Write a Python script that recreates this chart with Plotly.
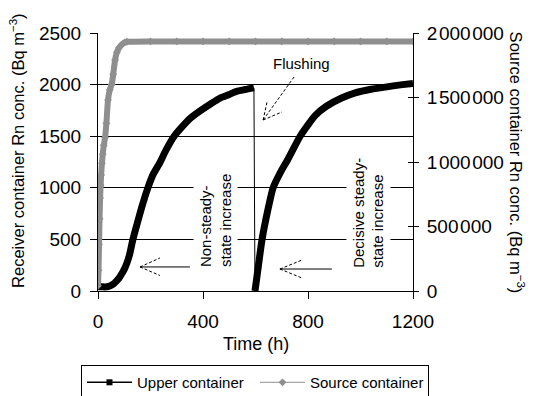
import plotly.graph_objects as go

# ---------------- data ----------------
# Upper (receiver) container, Bq m-3, left axis
time_upper = [0, 10, 20, 30, 40, 50, 60, 70, 80, 90, 100, 110, 120, 133, 150, 170, 190, 210, 236,
              260, 290, 320, 350, 389, 430, 465, 500, 528, 560, 594,
              598, 605, 615, 625, 645, 667, 695, 722, 770, 800, 827, 870, 928, 980, 1040, 1118,
              1160, 1200]
conc_upper = [40, 40, 40, 40, 45, 55, 70, 95, 125, 165, 210, 270, 350, 500, 660, 840, 1000, 1130, 1245,
              1370, 1500, 1590, 1670, 1745, 1815, 1870, 1905, 1935, 1952, 1968,
              0, 130, 320, 500, 760, 1000, 1150, 1270, 1500, 1610, 1700, 1790, 1870, 1920, 1955, 1985,
              2000, 2012]
FLUSH_TIME = 596

# Source container, Bq m-3, right axis
time_source = [0, 2, 4, 6, 8, 10, 12, 15, 18, 22, 27, 32, 38, 45, 52, 58, 65, 72, 80, 88, 95, 102, 110,
               200, 300, 400, 500, 600, 700, 800, 900, 1000, 1100, 1200]
conc_source = [40000, 160000, 360000, 560000, 720000, 820000, 900000, 990000, 1060000, 1130000,
               1190000, 1300000, 1480000, 1560000, 1600000, 1680000, 1790000, 1850000, 1885000,
               1905000, 1918000, 1927000, 1932000,
               1935000, 1935000, 1935000, 1935000, 1935000, 1935000, 1935000, 1935000, 1935000,
               1935000, 1935000]

x_ticks = [0, 400, 800, 1200]
left_ticks = [0, 500, 1000, 1500, 2000, 2500]
right_ticks = [0, 500000, 1000000, 1500000, 2000000]

series_names = ["Upper container", "Source container"]

# ---------------- styling ----------------
FONT = "Liberation Sans, Arial, sans-serif"
GREY = "#8f8f8f"
BLACK = "#000000"


def fmt_thousands(v):
    return f"{v:,}".replace(",", "\u200a")


pre = [(t, c) for t, c in zip(time_upper, conc_upper) if t < FLUSH_TIME]
post = [(t, c) for t, c in zip(time_upper, conc_upper) if t >= FLUSH_TIME]

fig = go.Figure()

# source container (right axis)
fig.add_trace(go.Scatter(x=time_source, y=conc_source, yaxis="y2", mode="lines+markers",
                         line=dict(color=GREY, width=6, shape="spline", smoothing=0.5),
                         marker=dict(symbol="diamond", size=6, color=GREY),
                         showlegend=False, hoverinfo="skip"))

# upper container, before and after flushing
for seg in (pre, post):
    fig.add_trace(go.Scatter(x=[p[0] for p in seg], y=[p[1] for p in seg], mode="lines",
                             line=dict(color=BLACK, width=7, shape="spline", smoothing=0.6),
                             showlegend=False, hoverinfo="skip"))
# thin line at the flushing step
fig.add_trace(go.Scatter(x=[pre[-1][0], post[0][0]], y=[pre[-1][1], post[0][1]], mode="lines",
                         line=dict(color=BLACK, width=1), showlegend=False, hoverinfo="skip"))

# legend entries
fig.add_trace(go.Scatter(x=[None], y=[None], mode="lines+markers", name=series_names[0],
                         line=dict(color=BLACK, width=1.5), marker=dict(symbol="square", size=6, color=BLACK)))
fig.add_trace(go.Scatter(x=[None], y=[None], mode="lines+markers", name=series_names[1],
                         line=dict(color=GREY, width=1), marker=dict(symbol="diamond", size=6, color=GREY)))
# invisible trace to keep the inner-tick axis alive
fig.add_trace(go.Scatter(x=[None], y=[None], yaxis="y3", showlegend=False, hoverinfo="skip"))

# ---------------- annotations ----------------
annotations = [
    dict(x=777, y=2200, text="Flushing", showarrow=False, font=dict(size=15, color=BLACK)),
    dict(x=448, y=683, text="Non-steady-<br>state increase", textangle=-90, align="left",
         showarrow=False, bgcolor="white", borderpad=3, font=dict(size=15, color=BLACK)),
    dict(x=1030, y=761, text="Decisive steady-<br>state increase", textangle=-90, align="left",
         showarrow=False, bgcolor="white", borderpad=3, font=dict(size=15, color=BLACK)),
    # axis titles
    dict(xref="paper", yref="paper", x=0.5, y=-0.205, xanchor="center", yanchor="middle",
         text="Time (h)", showarrow=False, font=dict(size=18, color=BLACK)),
    dict(xref="paper", yref="paper", x=-0.257, y=0.543, xanchor="center", yanchor="middle",
         text="Receiver container Rn conc. (Bq m<sup>\u22123</sup>)", textangle=-90, showarrow=False,
         font=dict(size=16.5, color=BLACK)),
    dict(xref="paper", yref="paper", x=1.333, y=0.498, xanchor="center", yanchor="middle",
         text="Source container Rn conc. (Bq m<sup>\u22123</sup>)", textangle=90, showarrow=False,
         font=dict(size=16.5, color=BLACK)),
]

arrow_lines = [
    # (x0, y0, x1, y1, dash)
    (160, 233, 350, 233, "solid"),
    (160, 233, 236, 320, "3px,2px"),
    (160, 233, 236, 150, "3px,2px"),
    (693, 213, 891, 213, "solid"),
    (693, 213, 777, 300, "3px,2px"),
    (693, 213, 777, 126, "3px,2px"),
    (747, 2074, 629, 1657, "3px,2px"),
    (629, 1657, 644, 1831, "3px,2px"),
    (629, 1657, 701, 1735, "3px,2px"),
]
shapes = [dict(type="line", xref="x", yref="y", x0=a, y0=b, x1=c, y1=d,
               line=dict(color=BLACK, width=1, dash=ds), layer="above")
          for a, b, c, d, ds in arrow_lines]

fig.update_layout(
    width=535, height=396,
    margin=dict(l=98, r=122, t=33, b=105, autoexpand=False),
    paper_bgcolor="white", plot_bgcolor="white",
    font=dict(family=FONT, color=BLACK, size=18),
    xaxis=dict(range=[0, 1200], tickvals=x_ticks, ticks="outside", ticklen=7, tickcolor=BLACK,
               showline=True, linecolor=BLACK, linewidth=1, showgrid=False, zeroline=False,
               tickfont=dict(size=19), ticklabelstandoff=6, automargin=False),
    yaxis=dict(range=[0, 2500], tickvals=left_ticks, ticks="outside", ticklen=7, tickcolor=BLACK,
               showline=True, linecolor=BLACK, linewidth=1, showgrid=True, gridcolor=BLACK,
               gridwidth=1, zeroline=False, tickfont=dict(size=19), ticklabelstandoff=5,
               automargin=False),
    yaxis2=dict(range=[0, 2000000], overlaying="y", side="right", tickvals=right_ticks,
                ticktext=[fmt_thousands(v) for v in right_ticks], ticks="outside", ticklen=5,
                tickcolor=BLACK, showline=True, linecolor=BLACK, linewidth=1, showgrid=False,
                zeroline=False, tickfont=dict(size=19), ticklabelstandoff=4, automargin=False),
    yaxis3=dict(range=[0, 2000000], overlaying="y", side="right", tickvals=right_ticks,
                ticks="inside", ticklen=5, tickcolor=BLACK, showticklabels=False, showline=False,
                showgrid=False, zeroline=False, automargin=False),
    legend=dict(orientation="h", x=-0.054, xanchor="left", y=-0.287, yanchor="top",
                bordercolor=BLACK, borderwidth=1, bgcolor="white", font=dict(size=15),
                itemwidth=45, entrywidth=113, entrywidthmode="pixels"),
    annotations=annotations,
    shapes=shapes,
    showlegend=True,
)

fig.write_html("out.html")
